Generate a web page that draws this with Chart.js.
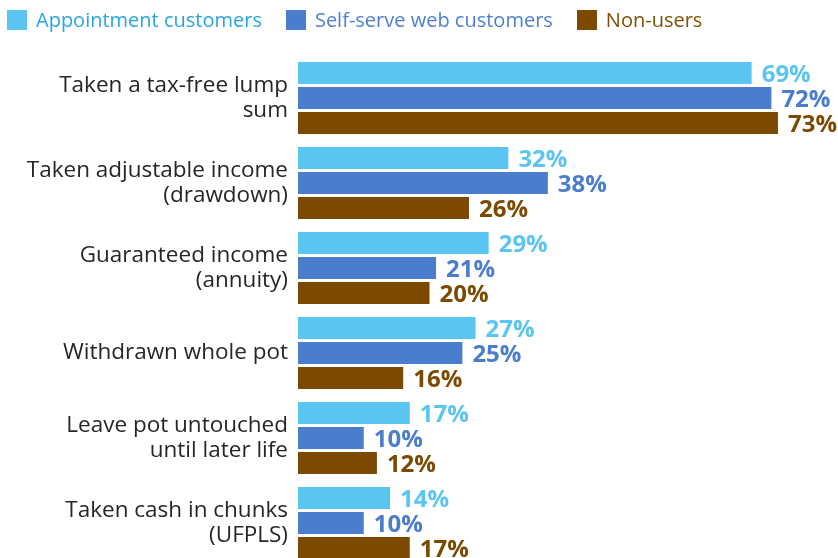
<!DOCTYPE html>
<html lang="en">
<head>
    <meta charset="UTF-8">
    <title>Retirement choices</title>
    <script src="https://cdn.jsdelivr.net/npm/chart.js"></script>
    <style>
        html, body { margin: 0; padding: 0; background: #fff; overflow: hidden; }
        #wrap { position: relative; width: 838px; height: 570px; }
        #legend { position: absolute; left: 7px; top: 7px; display: flex; font-family: "Open Sans", sans-serif; font-size: 20px; line-height: 26px; }
        .item { display: flex; align-items: center; margin-right: 24px; }
        .box { width: 20px; height: 20px; margin-right: 9px; }
    </style>
</head>
<body>
    <div id="wrap">
        <canvas id="chart" width="838" height="570" style="width:838px;height:570px"></canvas>
        <div id="legend"></div>
    </div>

    <script>
        // Chart data
        const categories = [
            ['Taken a tax-free lump', 'sum'],
            ['Taken adjustable income', '(drawdown)'],
            ['Guaranteed income', '(annuity)'],
            ['Withdrawn whole pot'],
            ['Leave pot untouched', 'until later life'],
            ['Taken cash in chunks', '(UFPLS)']
        ];
        const seriesNames = ['Appointment customers', 'Self-serve web customers', 'Non-users'];
        const appointment = [69, 32, 29, 27, 17, 14];
        const selfServe = [72, 38, 21, 25, 10, 10];
        const nonUsers = [73, 26, 20, 16, 12, 17];

        const barColors = ['#5BC5F2', '#4A7DCB', '#7B4A00'];
        const textColors = ['#27A6E1', '#4E80D0', '#7F5106'];

        // HTML legend
        const legend = document.getElementById('legend');
        seriesNames.forEach((name, i) => {
            const item = document.createElement('div');
            item.className = 'item';
            item.innerHTML = `<span class="box" style="background:${barColors[i]}"></span><span style="color:${textColors[i]}">${name}</span>`;
            legend.appendChild(item);
        });

        // value labels at bar ends
        const valueLabels = {
            id: 'valueLabels',
            afterDatasetsDraw(chart) {
                const ctx = chart.ctx;
                ctx.save();
                ctx.font = 'bold 24px "Open Sans", sans-serif';
                ctx.textBaseline = 'middle';
                ctx.textAlign = 'left';
                chart.data.datasets.forEach((ds, i) => {
                    const meta = chart.getDatasetMeta(i);
                    ctx.fillStyle = barColors[i];
                    meta.data.forEach((bar, j) => {
                        ctx.fillText(ds.data[j] + '%', bar.x + 10, bar.y + 2);
                    });
                });
                ctx.restore();
            }
        };

        new Chart(document.getElementById('chart'), {
            type: 'bar',
            data: {
                labels: categories,
                datasets: [
                    { label: seriesNames[0], data: appointment, backgroundColor: barColors[0] },
                    { label: seriesNames[1], data: selfServe, backgroundColor: barColors[1] },
                    { label: seriesNames[2], data: nonUsers, backgroundColor: barColors[2] }
                ]
            },
            options: {
                indexAxis: 'y',
                responsive: false,
                animation: false,
                layout: { padding: { top: 55.5, bottom: 4.5, left: 0, right: 14 } },
                categoryPercentage: 0.882,
                barPercentage: 0.88,
                plugins: {
                    legend: { display: false },
                    tooltip: { enabled: false }
                },
                scales: {
                    x: { display: false, min: 0, max: 80 },
                    y: {
                        // fixed label column, and no extra room for the last label's overflow
                        afterFit: s => {
                            s.width = 298;
                            s.paddingTop = 0;
                            s.paddingBottom = 0;
                        },
                        grid: { display: false, drawTicks: false },
                        border: { display: false },
                        ticks: {
                            padding: 10,
                            color: '#262626',
                            font: { family: '"Open Sans", sans-serif', size: 22.5, lineHeight: 1.1 }
                        }
                    }
                }
            },
            plugins: [valueLabels]
        });
    </script>
</body>
</html>
